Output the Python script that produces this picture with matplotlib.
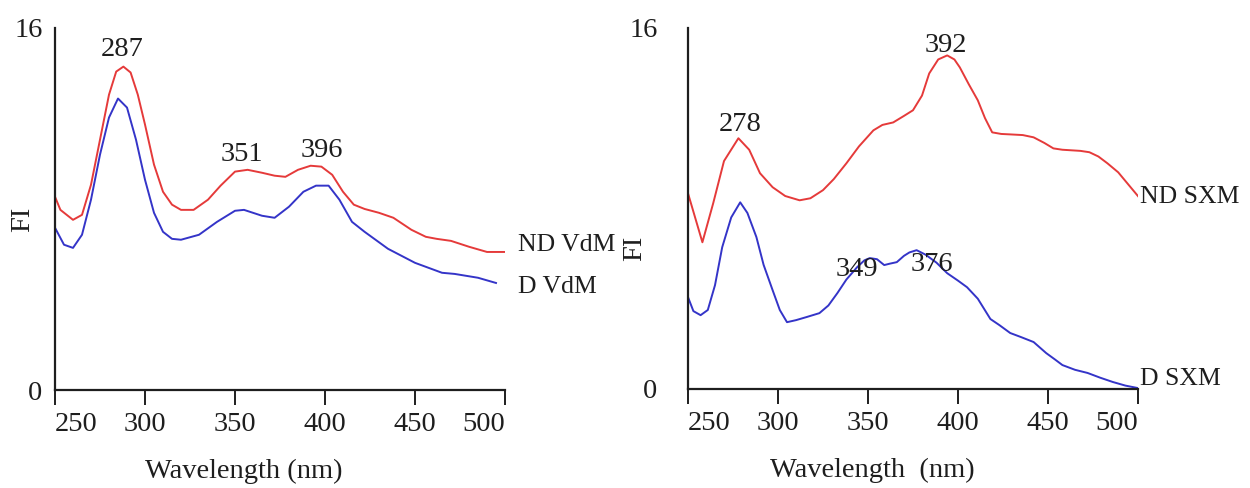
import matplotlib
matplotlib.use("Agg")
import matplotlib.pyplot as plt

plt.rcParams['font.family'] = ['Liberation Serif', 'DejaVu Serif']

# Left panel: VdM spectra (wavelength nm, FI)
vdm_nd_wl = [250, 253, 260, 265, 270, 275, 280, 284, 288, 292, 296, 300, 305, 310, 315,
             320, 327, 335, 342, 350, 357, 365, 372, 378, 385, 392, 398, 404, 410, 416,
             422, 430, 438, 448, 456, 462, 470, 480, 490, 500]
vdm_nd_fi = [8.54, 7.96, 7.52, 7.74, 9.07, 11.06, 13.05, 14.07, 14.29, 14.03, 13.05, 11.73,
             9.96, 8.76, 8.19, 7.96, 7.96, 8.41, 9.03, 9.65, 9.73, 9.6, 9.47, 9.42, 9.73,
             9.91, 9.87, 9.51, 8.76, 8.19, 8.0, 7.83, 7.61, 7.08, 6.77, 6.68, 6.59, 6.33,
             6.1, 6.1]

vdm_d_wl = [250, 255, 260, 265, 270, 275, 280, 285, 290, 295, 300, 305, 310, 315, 320,
            330, 340, 350, 355, 365, 372, 380, 388, 395, 402, 408, 415, 422, 435, 450,
            465, 472, 485, 495]
vdm_d_fi = [7.17, 6.42, 6.28, 6.86, 8.41, 10.4, 12.04, 12.88, 12.48, 11.06, 9.29, 7.83,
            6.99, 6.68, 6.64, 6.86, 7.43, 7.92, 7.96, 7.70, 7.61, 8.1, 8.76, 9.03, 9.03,
            8.41, 7.43, 6.99, 6.24, 5.62, 5.18, 5.13, 4.96, 4.73]

# Right panel: SXM spectra
sxm_nd_wl = [250, 258, 264, 270, 278, 284, 290, 297, 304, 312, 318, 325, 331, 338, 345,
             353, 358, 364, 370, 375, 380, 384, 389, 394, 398, 401, 406, 411, 415, 419,
             424, 429, 436, 442, 448, 453, 458, 462, 468, 473, 478, 483, 489, 494, 501]
sxm_nd_fi = [8.67, 6.50, 8.23, 10.1, 11.11, 10.6, 9.56, 8.94, 8.55, 8.36, 8.45, 8.81,
             9.3, 10.0, 10.75, 11.46, 11.7, 11.81, 12.1, 12.35, 13.0, 13.98, 14.6, 14.78,
             14.6, 14.25, 13.5, 12.79, 12.0, 11.37, 11.3, 11.28, 11.25, 11.15, 10.9, 10.66,
             10.6, 10.58, 10.55, 10.49, 10.3, 10.0, 9.6, 9.12, 8.45]

sxm_d_wl = [250, 253, 257, 261, 265, 269, 274, 279, 283, 288, 292, 297, 301, 305, 310,
            316, 323, 328, 333, 338, 344, 348, 351, 355, 359, 362, 366, 370, 373, 377,
            382, 388, 394, 400, 405, 411, 418, 423, 429, 435, 442, 449, 454, 458, 465,
            472, 479, 486, 493, 500]
sxm_d_fi = [4.07, 3.45, 3.27, 3.50, 4.6, 6.28, 7.6, 8.27, 7.8, 6.73, 5.5, 4.38, 3.5,
            2.96, 3.05, 3.19, 3.36, 3.7, 4.25, 4.85, 5.40, 5.7, 5.80, 5.75, 5.49, 5.55,
            5.62, 5.9, 6.05, 6.15, 5.95, 5.6, 5.13, 4.8, 4.51, 4.0, 3.1, 2.83, 2.48,
            2.3, 2.08, 1.59, 1.3, 1.06, 0.85, 0.71, 0.5, 0.31, 0.15, 0.04]

vdm_peaks = ["287", "351", "396"]
sxm_peaks = ["278", "392", "349", "376"]
xticks = [250, 300, 350, 400, 450, 500]

RED = "#e53a3a"
BLUE = "#3434c8"
INK = "#1e1e1e"
FS = 20.5
FS_LBL = 18.5

fig = plt.figure(figsize=(12.5, 4.88), dpi=100)
ax1 = fig.add_axes([0.044, 0.2008, 0.36, 0.742])
ax2 = fig.add_axes([0.5504, 0.2029, 0.36, 0.740])


def style_axis(ax, xlabel, label_x, ypad):
    ax.set_xlim(250, 500)
    ax.set_ylim(0, 16)
    for side in ("top", "right"):
        ax.spines[side].set_visible(False)
    for side in ("left", "bottom"):
        ax.spines[side].set_linewidth(1.6)
        ax.spines[side].set_color(INK)
    ax.set_xticks(xticks)
    ax.set_xticklabels([str(t) for t in xticks])
    ax.tick_params(axis="x", direction="out", length=11, width=1.4, color=INK,
                   labelsize=FS, labelcolor=INK, pad=5)
    labels = ax.get_xticklabels()
    labels[0].set_horizontalalignment("left")
    labels[-1].set_horizontalalignment("right")
    ax.set_yticks([0, 16])
    ax.set_yticklabels(["0", "16"])
    ax.tick_params(axis="y", length=0, labelsize=FS, labelcolor=INK, pad=ypad)
    ax.set_ylabel("FI", fontsize=FS, color=INK)
    ax.set_xlabel(xlabel, fontsize=FS, color=INK)
    ax.xaxis.set_label_coords(label_x, -0.19)
    ax.patch.set_alpha(0)


# Left panel
ax1.plot(vdm_nd_wl, vdm_nd_fi, color=RED, lw=1.4)
ax1.plot(vdm_d_wl, vdm_d_fi, color=BLUE, lw=1.4)
style_axis(ax1, "Wavelength (nm)", 0.42, 9)
ax1.yaxis.set_label_coords(-0.045, 0.47)
ax1.text(287.5, 15.05, vdm_peaks[0], fontsize=FS, color=INK, ha="center", va="center")
ax1.text(354, 10.4, vdm_peaks[1], fontsize=FS, color=INK, ha="center", va="center")
ax1.text(398, 10.6, vdm_peaks[2], fontsize=FS, color=INK, ha="center", va="center")
ax1.text(507, 6.4, "ND VdM", fontsize=FS_LBL, color=INK, ha="left", va="center", clip_on=False)
ax1.text(507, 4.55, "D VdM", fontsize=FS_LBL, color=INK, ha="left", va="center", clip_on=False)

# Right panel
ax2.plot(sxm_nd_wl, sxm_nd_fi, color=RED, lw=1.4)
ax2.plot(sxm_d_wl, sxm_d_fi, color=BLUE, lw=1.4)
style_axis(ax2, "Wavelength  (nm)", 0.41, 22)
ax2.yaxis.set_label_coords(-0.09, 0.39)
ax2.text(279, 11.7, sxm_peaks[0], fontsize=FS, color=INK, ha="center", va="center")
ax2.text(393, 15.2, sxm_peaks[1], fontsize=FS, color=INK, ha="center", va="center")
ax2.text(344, 5.3, sxm_peaks[2], fontsize=FS, color=INK, ha="center", va="center")
ax2.text(385.5, 5.5, sxm_peaks[3], fontsize=FS, color=INK, ha="center", va="center")
ax2.text(501, 8.5, "ND SXM", fontsize=FS_LBL, color=INK, ha="left", va="center", clip_on=False)
ax2.text(501, 0.45, "D SXM", fontsize=FS_LBL, color=INK, ha="left", va="center", clip_on=False)

fig.savefig("out.png", dpi=100)
